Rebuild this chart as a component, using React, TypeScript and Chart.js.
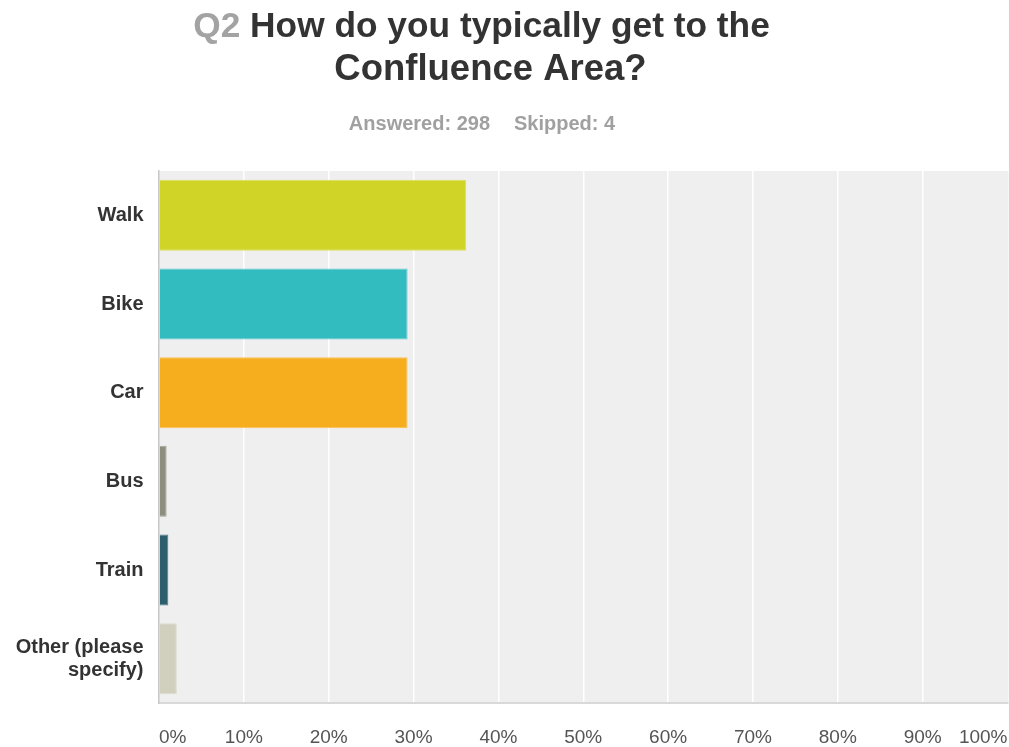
import React, { useEffect, useRef } from 'react';
import { Chart, registerables } from 'chart.js';

Chart.register(...registerables);

// ---- Data ----
const questionNumber = 'Q2';
const questionLines = ['How do you typically get to the', 'Confluence Area?'];
const answeredText = 'Answered: 298';
const skippedText = 'Skipped: 4';

const categories: (string | string[])[] = ['Walk', 'Bike', 'Car', 'Bus', 'Train', ['Other (please', 'specify)']];
const percentages = [36.2, 29.3, 29.3, 0.9, 1.1, 2.1];
const barColors = ['#cfd427', '#33bcbf', '#f6ae1e', '#8e8e7e', '#2c5e6e', '#d1d0bf'];
const barEdgeColors = ['#dbdf5c', '#62cccd', '#f8c154', '#a4a496', '#527c89', '#dcdbcd'];
const xMin = 0;
const xMax = 100;
const xStep = 10;

const FONT = "'Liberation Sans', Arial, sans-serif";

const plotBackground = {
  id: 'plotBackground',
  beforeDraw(chart: any) {
    const { ctx, chartArea } = chart;
    ctx.save();
    ctx.fillStyle = '#efefef';
    ctx.fillRect(chartArea.left, chartArea.top, chartArea.right - chartArea.left + 1, chartArea.bottom - chartArea.top);
    ctx.restore();
  },
};

const headerText = {
  id: 'headerText',
  afterDraw(chart: any) {
    const { ctx } = chart;
    ctx.save();
    ctx.textBaseline = 'alphabetic';
    ctx.textAlign = 'left';
    // Title line 1
    ctx.font = `bold 35.3px ${FONT}`;
    const qPart = questionNumber + ' ';
    const wQ = ctx.measureText(qPart).width;
    const w1 = ctx.measureText(questionLines[0]).width;
    const x = 481.5 - (wQ + w1) / 2;
    ctx.fillStyle = '#a3a3a3';
    ctx.fillText(qPart, x, 37);
    ctx.fillStyle = '#333333';
    ctx.fillText(questionLines[0], x + wQ, 37);
    // Title line 2
    ctx.font = `bold 36.5px ${FONT}`;
    ctx.textAlign = 'center';
    ctx.fillText(questionLines[1], 490.5, 80);
    // Subtitle
    ctx.textAlign = 'left';
    ctx.font = `bold 20px ${FONT}`;
    ctx.fillStyle = '#a0a0a0';
    const wa = ctx.measureText(answeredText).width;
    const ws = ctx.measureText(skippedText).width;
    const gap = 24;
    const sx = 482 - (wa + gap + ws) / 2;
    ctx.fillText(answeredText, sx, 130);
    ctx.fillText(skippedText, sx + wa + gap, 130);
    ctx.restore();
  },
};

export default function App() {
  const canvasRef = useRef<HTMLCanvasElement | null>(null);

  useEffect(() => {
    if (!canvasRef.current) return;
    const chart = new Chart(canvasRef.current, {
      type: 'bar',
      data: {
        labels: categories as any,
        datasets: [
          {
            data: percentages,
            backgroundColor: barColors,
            borderColor: barEdgeColors,
            borderWidth: 1,
            categoryPercentage: 0.8,
            barPercentage: 1.0,
          },
        ],
      },
      options: {
        indexAxis: 'y',
        animation: false,
        responsive: false,
        maintainAspectRatio: false,
        layout: { padding: { top: 171, right: 1.5, bottom: 0, left: 0 } },
        plugins: {
          legend: { display: false },
          title: { display: false },
          tooltip: { enabled: false },
        },
        scales: {
          x: {
            type: 'linear',
            min: xMin,
            max: xMax,
            afterFit(scale: any) {
              scale.height = 44;
              scale.paddingLeft = 0;
              scale.paddingRight = 0;
            },
            ticks: {
              stepSize: xStep,
              align: 'inner',
              padding: 23,
              color: '#555555',
              font: { family: FONT, size: 19 },
              callback: (v: any) => `${v}%`,
            },
            grid: {
              drawTicks: false,
              lineWidth: 1.5,
              color: (ctx: any) =>
                ctx.tick && (ctx.tick.value === xMin || ctx.tick.value === xMax) ? 'rgba(0,0,0,0)' : '#ffffff',
            },
            border: { display: true, color: '#d9d9d9', width: 2 },
          },
          y: {
            type: 'category',
            afterFit(scale: any) {
              scale.width = 159;
              scale.paddingTop = 0;
              scale.paddingBottom = 0;
            },
            ticks: {
              padding: 15.5,
              color: '#333333',
              font: { family: FONT, size: 20, weight: 'bold', lineHeight: 1.15 },
            },
            grid: { display: false, drawTicks: false },
            border: { display: true, color: '#c8c8c8', width: 1.5 },
          },
        },
      },
      plugins: [plotBackground, headerText],
    } as any);
    return () => chart.destroy();
  }, []);

  return (
    <div style={{ position: 'absolute', left: 0, top: 0, width: 1009, height: 747, background: '#ffffff' }}>
      <canvas ref={canvasRef} width={1009} height={747} style={{ display: 'block', width: 1009, height: 747 }} />
    </div>
  );
}
